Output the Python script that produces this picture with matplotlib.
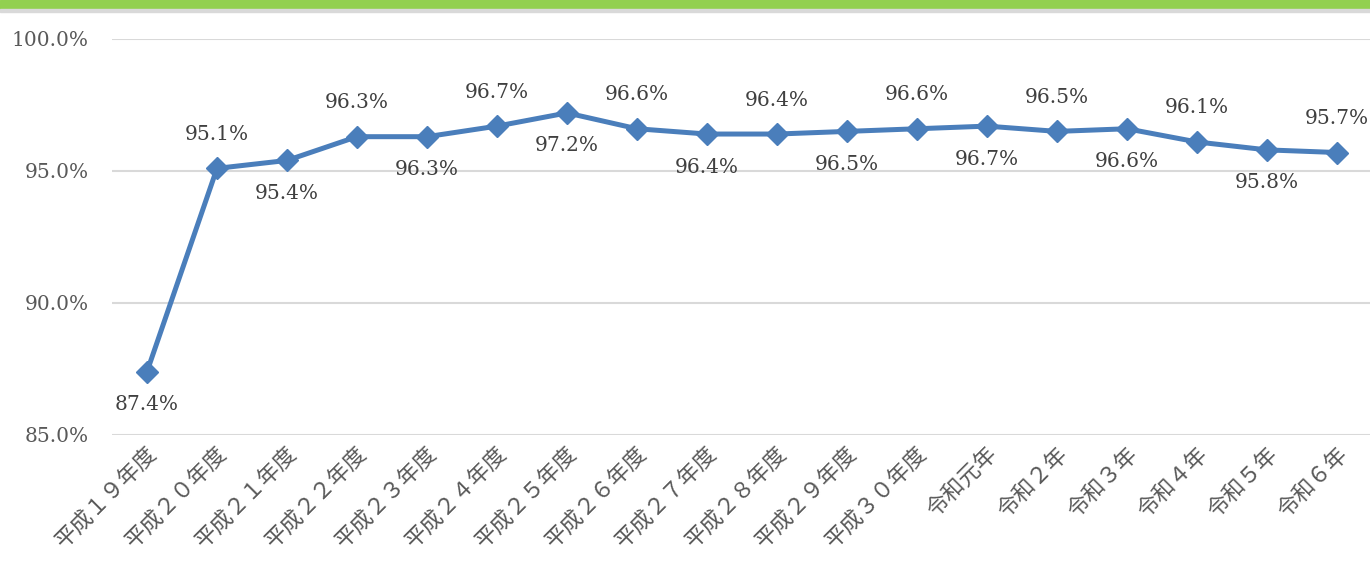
import matplotlib.pyplot as plt
from matplotlib.patches import Rectangle

# Data
years = ['平成１９年度', '平成２０年度', '平成２１年度', '平成２２年度', '平成２３年度',
         '平成２４年度', '平成２５年度', '平成２６年度', '平成２７年度', '平成２８年度',
         '平成２９年度', '平成３０年度', '令和元年', '令和２年', '令和３年',
         '令和４年', '令和５年', '令和６年']
rate = [87.4, 95.1, 95.4, 96.3, 96.3, 96.7, 97.2, 96.6, 96.4, 96.4,
        96.5, 96.6, 96.7, 96.5, 96.6, 96.1, 95.8, 95.7]
yticks = [85.0, 90.0, 95.0, 100.0]

num_font = ['DejaVu Serif']
jp_font = ['DejaVu Serif', 'Noto Sans CJK JP', 'DejaVu Sans']

# Layout
fig = plt.figure(figsize=(13.7, 5.67), dpi=100)
W, H = 1370, 567
ax = fig.add_axes([112 / W, 1 - 435 / H, 1260 / W, 396 / H])

# green band at the top
fig.patches.append(Rectangle((0, 1 - 9 / H), 1, 9 / H, transform=fig.transFigure,
                             color='#92D050', zorder=0))
fig.patches.append(Rectangle((0, 1 - 12 / H), 1, 3 / H, transform=fig.transFigure,
                             color='#D9D9D9', zorder=0))

# Plot
x = list(range(len(years)))
ax.plot(x, rate, color='#4A7EBB', lw=3.6, marker='D', markersize=11,
        solid_joinstyle='round', zorder=3, clip_on=False)

for i, v in enumerate(rate):
    off = -33 if i % 2 == 0 else 34
    ax.annotate(f'{v:.1f}%', (i, v), xytext=(0, off), textcoords='offset pixels',
                ha='center', va='center', fontsize=14.5, family=num_font,
                color='#404040')

# Details
ax.set_xlim(-0.5, len(years) - 0.5)
ax.set_ylim(85, 100)
ax.set_yticks(yticks)
ax.set_yticklabels([f'{t:.1f}%' for t in yticks], family=num_font, fontsize=14.5,
                   color='#595959')
ax.set_xticks(x)
ax.set_xticklabels(years, rotation=45, ha='right', va='top', rotation_mode='anchor',
                   family=jp_font, fontsize=16, color='#595959')
ax.tick_params(axis='y', length=0, pad=17)
ax.tick_params(axis='x', length=0, pad=6)
ax.grid(axis='y', color='#D9D9D9', lw=1.5)
ax.set_axisbelow(True)
for s in ax.spines.values():
    s.set_visible(False)

# Save
fig.savefig('out.png', dpi=100)
